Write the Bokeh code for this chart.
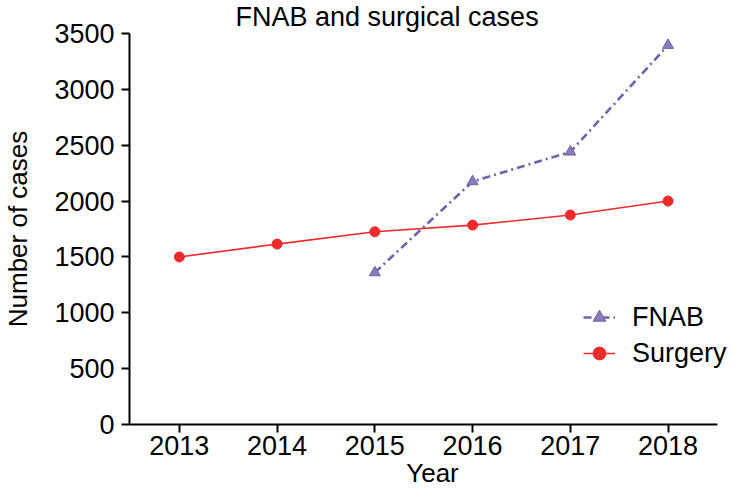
from bokeh.plotting import figure
from bokeh.models import (ColumnDataSource, Range1d, FixedTicker, Legend, LegendItem)
from bokeh.embed import file_html
from bokeh.resources import INLINE

years = [2013, 2014, 2015, 2016, 2017, 2018]
surgery = [1500, 1615, 1725, 1785, 1875, 2000]
fnab_years = [2015, 2016, 2017, 2018]
fnab = [1360, 2175, 2440, 3395]
y_ticks = [0, 500, 1000, 1500, 2000, 2500, 3000, 3500]

FONT = "Liberation Sans"
PURPLE = "#7261a6"
PURPLE_FILL = "#8a7cba"
RED = "#ee2b2b"

p = figure(width=735, height=496, output_backend="svg", toolbar_location=None,
           x_range=Range1d(2012.49, 2018.69), y_range=Range1d(0, 3500),
           min_border_left=127, min_border_right=0, min_border_top=33, min_border_bottom=72)
p.outline_line_color = None
p.grid.visible = False
p.background_fill_color = "white"
p.border_fill_color = "white"

p.title.text = "FNAB and surgical cases"
p.title.text_font = FONT
p.title.text_font_size = "27px"
p.title.text_font_style = "normal"
p.title.text_color = "black"
p.title.align = "left"
p.title.offset = 106
p.title.standoff = 0
p.title.vertical_align = "top"

for ax in (p.xaxis[0], p.yaxis[0]):
    ax.axis_line_width = 2
    ax.axis_line_color = "black"
    ax.major_tick_line_width = 2
    ax.major_tick_line_color = "black"
    ax.major_tick_out = 8
    ax.major_tick_in = 0
    ax.minor_tick_line_color = None
    ax.major_label_text_font = FONT
    ax.major_label_text_font_size = "27px"
    ax.major_label_text_color = "black"
    ax.axis_label_text_font = FONT
    ax.axis_label_text_font_style = "normal"
    ax.axis_label_text_color = "black"

p.xaxis.axis_label_text_font_size = "26px"
p.yaxis.axis_label_text_font_size = "26px"
p.xaxis.major_label_standoff = 3
p.yaxis.major_label_standoff = 7
p.xaxis.bounds = (2012.49, 2018.51)
p.xaxis.ticker = FixedTicker(ticks=years)
p.yaxis.ticker = FixedTicker(ticks=y_ticks)
p.xaxis.axis_label = "Year"
p.yaxis.axis_label = "Number of cases"
p.xaxis.axis_label_standoff = 0
p.yaxis.axis_label_standoff = 18

src_s = ColumnDataSource(dict(x=years, y=surgery))
src_f = ColumnDataSource(dict(x=fnab_years, y=fnab))

ls = p.line("x", "y", source=src_s, line_color=RED, line_width=1.6)
ms = p.scatter("x", "y", source=src_s, marker="circle", size=10, fill_color=RED, line_color=RED)
lf = p.line("x", "y", source=src_f, line_color=PURPLE, line_width=2.6, line_dash="8 4 2 4")
mf = p.scatter("x", "y", source=src_f, marker="triangle", size=11, fill_color=PURPLE_FILL,
               line_color=PURPLE, line_width=1)

legend = Legend(items=[LegendItem(label="FNAB", renderers=[lf, mf]),
                       LegendItem(label="Surgery", renderers=[ls, ms])],
                location=(454, 53), padding=0, margin=0, spacing=0,
                glyph_width=32, glyph_height=36, label_height=36, label_standoff=17,
                label_text_font=FONT, label_text_font_size="27px", label_text_color="black",
                border_line_color=None, background_fill_alpha=0)
p.add_layout(legend, "center")

open("out.html", "w").write(file_html(p, INLINE))
